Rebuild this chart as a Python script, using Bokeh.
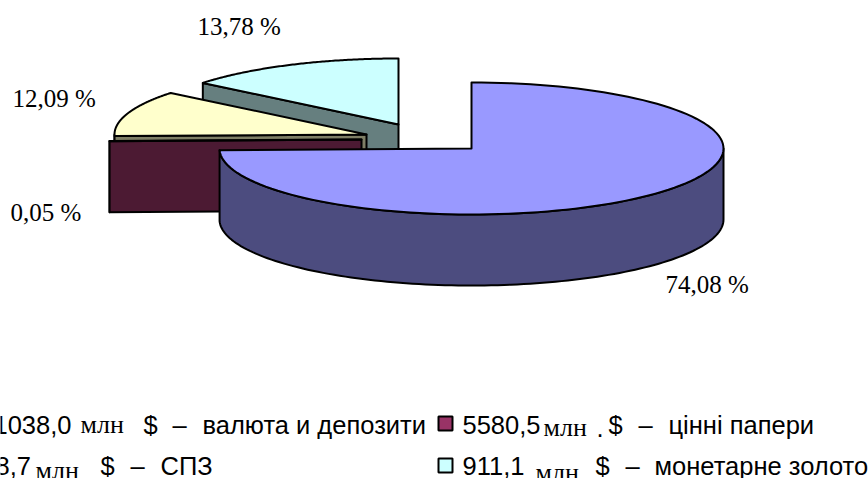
import numpy as np
from bokeh.plotting import figure
from bokeh.embed import file_html
from bokeh.resources import INLINE
from bokeh.core.properties import value

# data: slice sizes as measured on the drawn pie, printed labels as shown
slice_shares = [74.6, 0.05, 11.2, 14.15]
share_labels = ["74,08 %", "0,05 %", "12,09 %", "13,78 %"]
top_colors = ["#9999FF", "#993366", "#FFFFCC", "#CCFFFF"]
side_colors = ["#4C4C7F", "#4C1A33", "#7F7F66", "#667F7F"]

legend_amounts = ["1038,0", "5580,5", "8,7", "911,1"]
legend_names = ["валюта и депозити", "цінні папери", "СПЗ", "монетарне золото"]

# layout
W, H = 868, 478
RX, RY, DEPTH = 252, 66, 71
centers = [(471, 148), (361, 139), (366, 134), (398, 124)]
label_pos = [(665, 284), (10, 212), (12, 98), (197, 26)]

p = figure(width=W, height=H, x_range=(0, W), y_range=(H, 0), toolbar_location=None,
           output_backend="svg", min_border=0, outline_line_color=None)
p.axis.visible = False
p.grid.visible = False

cum = np.cumsum([0] + slice_shares) / sum(slice_shares) * 2 * np.pi


def rim(i, a0, a1, n=120):
    t = np.linspace(a0, a1, n)
    cx, cy = centers[i]
    return cx + RX * np.sin(t), cy - RY * np.cos(t)


def draw_slice(i):
    a0, a1 = cum[i], cum[i + 1]
    cx, cy = centers[i]
    kw = dict(line_color="black", line_width=2, line_join="round")
    # outer wall: only the part of the rim facing the viewer
    lo, hi = max(a0, np.pi / 2), min(a1, 3 * np.pi / 2)
    if hi > lo:
        x, y = rim(i, lo, hi)
        p.patch(np.r_[x, x[::-1]], np.r_[y, y[::-1] + DEPTH], fill_color=side_colors[i], **kw)
    # cut faces that look towards the viewer
    for a, seen in ((a0, a0 > np.pi), (a1, a1 < np.pi)):
        if seen:
            ex, ey = cx + RX * np.sin(a), cy - RY * np.cos(a)
            p.patch([cx, ex, ex, cx], [cy, ey, ey + DEPTH, cy + DEPTH], fill_color=side_colors[i], **kw)
    # top
    x, y = rim(i, a0, a1)
    p.patch(np.r_[cx, x], np.r_[cy, y], fill_color=top_colors[i], **kw)


for i in (3, 2, 1, 0):
    draw_slice(i)

for t, (x, y) in zip(share_labels, label_pos):
    p.text([x], [y], text=[t], text_font=value("Liberation Serif"), text_font_size="25px",
           text_color="black", text_baseline="middle")

SANS = value("Liberation Sans")
SERIF = value("Liberation Serif")


def txt(x, y, t, serif=False):
    p.text([x], [y], text=[t], text_font=SERIF if serif else SANS,
           text_font_size="26px" if serif else "25.5px", text_color="black", text_baseline="middle")


# legend row 1
txt(-7, 424, legend_amounts[0]); txt(80, 424, "млн", True); txt(143, 424, "$"); txt(172, 424, "–")
txt(202, 424, legend_names[0])
txt(462, 424, legend_amounts[1]); txt(543, 427, "млн", True); txt(596, 427, "."); txt(608, 424, "$")
txt(638, 424, "–"); txt(668, 424, legend_names[1])
# legend row 2
txt(-5, 465, legend_amounts[2]); txt(35, 470, "млн", True); txt(100, 465, "$"); txt(130, 465, "–")
txt(160, 465, legend_names[2])
txt(462, 465, legend_amounts[3]); txt(535, 472, "млн", True); txt(595, 465, "$")
txt(625, 465, "–"); txt(654, 465, legend_names[3])

p.scatter([445], [423], marker="square", size=14, fill_color=top_colors[1], line_color="black", line_width=2)
p.scatter([445], [465], marker="square", size=14, fill_color=top_colors[3], line_color="black", line_width=2)

open("out.html", "w").write(file_html(p, INLINE))
